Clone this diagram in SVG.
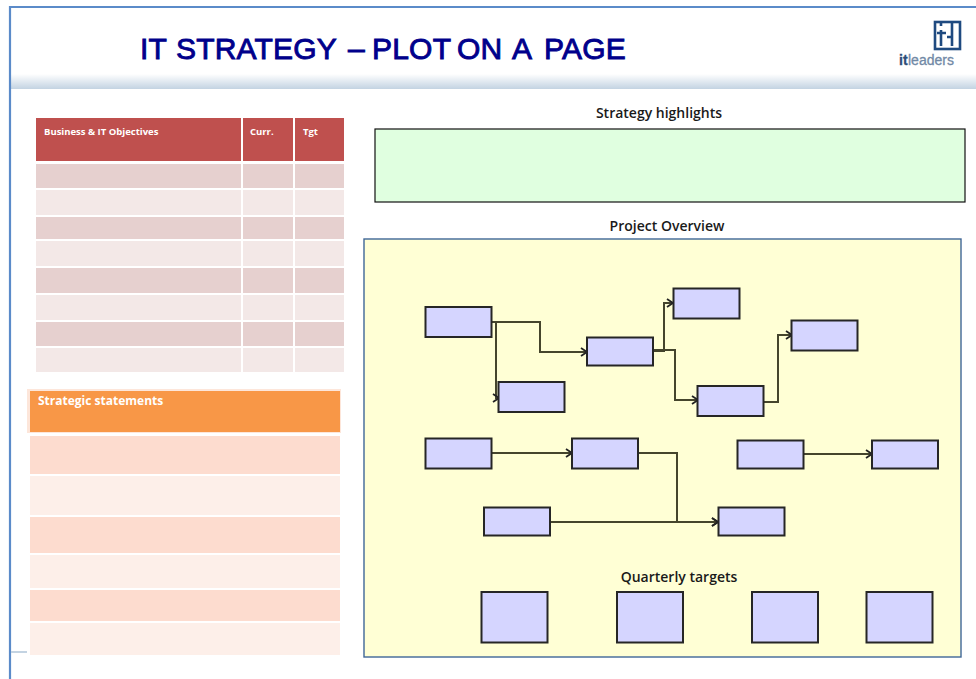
<svg xmlns="http://www.w3.org/2000/svg" width="976" height="679" viewBox="0 0 976 679">
<style>
.bx{fill:#d5d5ff;stroke:#262626;stroke-width:2}
.c{fill:none;stroke:#45452c;stroke-width:2}
.h{font-family:"Open Sans","Noto Sans",sans-serif;font-size:14px;fill:#1a1a1a;text-anchor:middle;font-weight:600}
.w{font-family:"Open Sans","Noto Sans",sans-serif;font-weight:700;fill:#fff}
.r1{fill:#e6d0cf}.r2{fill:#f3e8e7}.s1{fill:#fddccf}.s2{fill:#fdefe9}
</style>
<defs>
<marker id="a" markerWidth="12" markerHeight="12" refX="9" refY="6" orient="auto" markerUnits="userSpaceOnUse"><path d="M3 2L9 6L3 10" fill="none" stroke="#222" stroke-width="1.8"/></marker>
<linearGradient id="g" x1="0" y1="0" x2="0" y2="1"><stop offset="0" stop-color="#fff"/><stop offset="1" stop-color="#c3d3e2"/></linearGradient>
</defs>
<rect width="976" height="679" fill="#fff"/>
<g id="frame">
<rect x="11" y="74" width="965" height="15" fill="url(#g)"/>
<path d="M976 7H10V679" fill="none" stroke="#5b8bc9" stroke-width="2.200"/>
<path d="M11 652H27" stroke="#c3d3e2" stroke-width="2"/>
</g>
<g id="title"><text y="59" font-family="Liberation Sans,Arial,sans-serif" font-size="30" stroke="#00008b" stroke-width=".9" fill="#00008b" letter-spacing=".2"><tspan x="140">IT</tspan><tspan x="176">STRATEGY</tspan><tspan x="348">–</tspan><tspan x="372">PLOT</tspan><tspan x="457">ON</tspan><tspan x="512">A</tspan><tspan x="544">PAGE</tspan></text></g>
<g id="logo">
<rect x="935" y="22" width="25" height="27" fill="none" stroke="#1f4a80" stroke-width="2.600"/>
<path d="M941 22V26M941 30V46M937 33H946M952 22V46M947 37H952" fill="none" stroke="#1f4a80" stroke-width="2.600"/>
<text y="65" font-family="Liberation Sans,Arial,sans-serif" font-size="14" fill="#7189a6" stroke="#7189a6" stroke-width=".3"><tspan x="899" font-weight="700" fill="#2b4d78" stroke="#2b4d78">it</tspan><tspan x="908">leaders</tspan></text>
</g>
<g id="objectives">
<rect x="36" y="118" width="205" height="43" fill="#bf504e"/><rect x="243" y="118" width="50" height="43" fill="#bf504e"/><rect x="295" y="118" width="49" height="43" fill="#bf504e"/>
<text class="w" x="44" y="135" font-size="9.500">Business &amp; IT Objectives</text><text class="w" x="250" y="135" font-size="9.500">Curr.</text><text class="w" x="303" y="135" font-size="9.500">Tgt</text>
<g class="r1"><rect x="36" y="164" width="205" height="24"/><rect x="243" y="164" width="50" height="24"/><rect x="295" y="164" width="49" height="24"/>
<rect x="36" y="217" width="205" height="22"/><rect x="243" y="217" width="50" height="22"/><rect x="295" y="217" width="49" height="22"/>
<rect x="36" y="268" width="205" height="25"/><rect x="243" y="268" width="50" height="25"/><rect x="295" y="268" width="49" height="25"/>
<rect x="36" y="322" width="205" height="24"/><rect x="243" y="322" width="50" height="24"/><rect x="295" y="322" width="49" height="24"/></g>
<g class="r2"><rect x="36" y="190" width="205" height="25"/><rect x="243" y="190" width="50" height="25"/><rect x="295" y="190" width="49" height="25"/>
<rect x="36" y="241" width="205" height="25"/><rect x="243" y="241" width="50" height="25"/><rect x="295" y="241" width="49" height="25"/>
<rect x="36" y="295" width="205" height="25"/><rect x="243" y="295" width="50" height="25"/><rect x="295" y="295" width="49" height="25"/>
<rect x="36" y="348" width="205" height="24"/><rect x="243" y="348" width="50" height="24"/><rect x="295" y="348" width="49" height="24"/></g>
</g>
<g id="statements">
<rect x="27" y="389" width="314" height="44" fill="#fde6da"/>
<rect x="30" y="391" width="310" height="41" fill="#f89747"/>
<text class="w" x="38" y="405" font-size="12">Strategic statements</text>
<g class="s1"><rect x="30" y="436" width="310" height="38"/><rect x="30" y="517" width="310" height="36"/><rect x="30" y="590" width="310" height="31"/></g>
<g class="s2"><rect x="30" y="476" width="310" height="39"/><rect x="30" y="555" width="310" height="33"/><rect x="30" y="623" width="310" height="32"/></g>
</g>
<g id="highlights">
<text class="h" x="659" y="118">Strategy highlights</text>
<rect x="375" y="129" width="590" height="73" fill="#e0ffe0" stroke="#111" stroke-width="1.200"/>
</g>
<g id="overview">
<text class="h" x="667" y="231">Project Overview</text>
<rect x="364" y="239" width="597" height="418" fill="#ffffd5" stroke="#3f6797" stroke-width="1.400"/>
<text class="h" x="679" y="582">Quarterly targets</text>
</g>
<g id="connectors">
<path class="c" marker-end="url(#a)" d="M492 322H540V352H587"/>
<path class="c" marker-end="url(#a)" d="M496 322V398H499"/>
<path class="c" marker-end="url(#a)" d="M653 351H664V303H673"/>
<path class="c" marker-end="url(#a)" d="M653 350H675V400H698"/>
<path class="c" marker-end="url(#a)" d="M764 402H778V335H792"/>
<path class="c" marker-end="url(#a)" d="M492 453H572"/>
<path class="c" marker-end="url(#a)" d="M638 453H677V522H718"/>
<path class="c" marker-end="url(#a)" d="M550 522H718"/>
<path class="c" marker-end="url(#a)" d="M803 454H872"/>
</g>
<g id="n1"><rect class="bx" x="425.500" y="307" width="66" height="30"/></g>
<g id="n2"><rect class="bx" x="498.500" y="382" width="66" height="30"/></g>
<g id="n3"><rect class="bx" x="587" y="337.500" width="66" height="28"/></g>
<g id="n4"><rect class="bx" x="673.500" y="288.500" width="66" height="30"/></g>
<g id="n5"><rect class="bx" x="697.500" y="386" width="66" height="30"/></g>
<g id="n6"><rect class="bx" x="791.500" y="320.500" width="66" height="30"/></g>
<g id="n7"><rect class="bx" x="425.500" y="438.500" width="66" height="30"/></g>
<g id="n8"><rect class="bx" x="572" y="438.500" width="66" height="30"/></g>
<g id="n9"><rect class="bx" x="737.500" y="440.500" width="66" height="28"/></g>
<g id="n10"><rect class="bx" x="872" y="440.500" width="66" height="28"/></g>
<g id="n11"><rect class="bx" x="484" y="507.500" width="66" height="28"/></g>
<g id="n12"><rect class="bx" x="718.500" y="507.500" width="66" height="28"/></g>
<g id="q1"><rect class="bx" x="481.500" y="592" width="66" height="50.500"/></g>
<g id="q2"><rect class="bx" x="617" y="592" width="66" height="50.500"/></g>
<g id="q3"><rect class="bx" x="752" y="592" width="66" height="50.500"/></g>
<g id="q4"><rect class="bx" x="866.500" y="592" width="66" height="50.500"/></g>
</svg>
